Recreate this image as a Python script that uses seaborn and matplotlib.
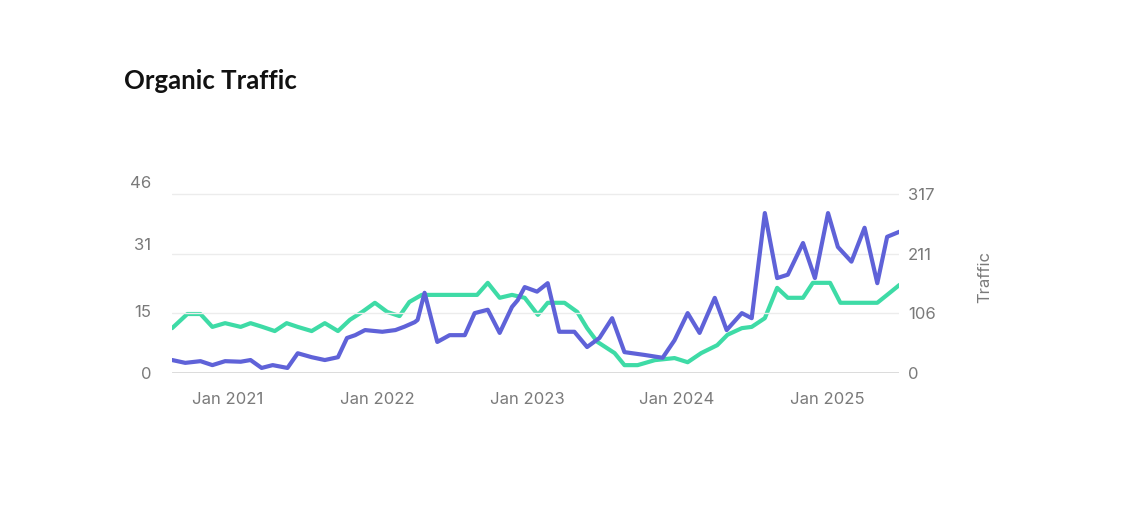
import matplotlib
matplotlib.use("Agg")
import matplotlib.pyplot as plt
import matplotlib.dates as mdates
import numpy as np
import pandas as pd
import seaborn as sns

# traffic series (right axis)
traffic_dates = ['2020-08-19', '2020-09-20', '2020-10-27', '2020-11-25', '2020-12-26',
                 '2021-02-02', '2021-02-26', '2021-03-25', '2021-04-21', '2021-05-27',
                 '2021-06-21', '2021-07-25', '2021-08-26', '2021-09-27', '2021-10-19',
                 '2021-11-08', '2021-12-02', '2022-01-13', '2022-02-14', '2022-03-08',
                 '2022-04-02', '2022-04-09', '2022-04-26', '2022-05-13', '2022-05-27',
                 '2022-06-26', '2022-08-02', '2022-08-26', '2022-09-27', '2022-10-26',
                 '2022-11-25', '2022-12-09', '2022-12-26', '2023-01-25', '2023-02-20',
                 '2023-03-20', '2023-04-26', '2023-05-27', '2023-06-26', '2023-07-27',
                 '2023-08-26', '2023-10-14', '2023-11-27', '2023-12-26', '2024-01-27',
                 '2024-02-25', '2024-04-02', '2024-05-01', '2024-06-07', '2024-07-01',
                 '2024-08-02', '2024-09-01', '2024-09-27', '2024-11-03', '2024-12-02',
                 '2025-01-03', '2025-01-27', '2025-03-01', '2025-04-02', '2025-05-03',
                 '2025-05-27', '2025-06-26']
traffic = [23, 18, 21, 14, 21, 20, 23, 9, 14, 9,
           35, 28, 23, 28, 62, 67, 76, 73, 76, 82,
           90, 94, 142, 94, 55, 67, 67, 106, 112, 71,
           117, 129, 152, 144, 159, 73, 73, 46, 62, 97,
           37, 32, 27, 58, 106, 71, 133, 76, 106, 97,
           283, 168, 174, 230, 168, 283, 223, 197, 257, 159,
           241, 250]

# keywords series (left axis)
kw_dates = ['2020-08-19', '2020-09-25', '2020-10-27', '2020-11-25', '2020-12-26',
            '2021-02-02', '2021-02-26', '2021-03-27', '2021-04-26', '2021-05-25',
            '2021-06-21', '2021-07-25', '2021-08-26', '2021-09-27', '2021-10-26',
            '2021-11-25', '2021-12-26', '2022-01-25', '2022-02-24', '2022-03-20',
            '2022-04-19', '2022-09-01', '2022-09-27', '2022-10-26', '2022-11-25',
            '2022-12-26', '2023-01-27', '2023-02-20', '2023-04-02', '2023-05-03',
            '2023-05-27', '2023-06-21', '2023-08-02', '2023-08-26', '2023-09-27',
            '2023-11-08', '2023-12-26', '2024-01-27', '2024-02-29', '2024-04-08',
            '2024-05-03', '2024-06-07', '2024-07-01', '2024-08-02', '2024-09-01',
            '2024-09-27', '2024-11-03', '2024-11-27', '2025-01-08', '2025-02-02',
            '2025-05-03', '2025-05-27', '2025-06-26']
keywords = [10.8, 14.2, 14.2, 11.1, 12.0, 11.1, 12.0, 11.1, 10.1, 12.0,
            11.1, 10.1, 12.0, 10.1, 12.8, 14.7, 16.9, 14.7, 13.7, 17.1,
            18.8, 18.8, 21.7, 18.1, 18.8, 18.1, 14.0, 16.9, 16.9, 14.7,
            10.8, 7.5, 4.8, 1.9, 1.9, 3.1, 3.6, 2.6, 4.8, 6.7,
            9.2, 10.8, 11.1, 13.2, 20.5, 18.1, 18.1, 21.7, 21.7, 16.9,
            16.9, 18.8, 21.2]

left_ticks = [0, 15, 31, 46]
right_ticks = [0, 106, 211, 317]

df_t = pd.DataFrame({'date': pd.to_datetime(traffic_dates), 'val': traffic})
df_k = pd.DataFrame({'date': pd.to_datetime(kw_dates), 'val': keywords})

sns.set_style('white')
plt.rcParams['font.family'] = ['Inter', 'DejaVu Sans']

fig = plt.figure(figsize=(11.4, 5.21), dpi=100)
ax = fig.add_axes([0.151, 0.284, 0.638, 0.367])
ax2 = ax.twinx()

blue = '#5f62d8'
green = '#3edba6'
grey = '#7a7a7a'

sns.lineplot(data=df_k, x='date', y='val', ax=ax, color=green, lw=3,
             solid_joinstyle='round', solid_capstyle='round', zorder=3)
sns.lineplot(data=df_t, x='date', y='val', ax=ax2, color=blue, lw=3,
             solid_joinstyle='round', solid_capstyle='round', zorder=4)

x0, x1 = pd.Timestamp('2020-08-19'), pd.Timestamp('2025-06-26')
ax.set_xlim(x0, x1)
ax.set_ylim(0, 46)
ax2.set_ylim(0, 317 * 191 / 179)

ax.set_yticks(left_ticks)
ax2.set_yticks(right_ticks)
ax.set_yticklabels([str(v) for v in left_ticks])
ax2.set_yticklabels([str(v) for v in right_ticks])

ax.xaxis.set_major_locator(mdates.YearLocator(month=1, day=1))
ax.xaxis.set_major_formatter(mdates.DateFormatter('Jan %Y'))

for a in (ax, ax2):
    for s in a.spines.values():
        s.set_visible(False)
    a.set_xlabel('')
    a.set_ylabel('')

ax.tick_params(axis='y', length=0, labelsize=12, labelcolor=grey, pad=15)
ax2.tick_params(axis='y', length=0, labelsize=12, labelcolor=grey, pad=6)
ax.tick_params(axis='x', length=0, labelsize=12, labelcolor=grey, pad=14)

# grid lines from right scale
for v in right_ticks[1:]:
    ax2.axhline(v, color='#ececec', lw=1, zorder=0)
ax2.axhline(0, color='#d8d8d8', lw=2, zorder=1)
ax.grid(False)
ax2.grid(False)

ax2.set_ylabel('Traffic', color=grey, fontsize=12, labelpad=30)

fig.text(0.109, 0.83, 'Organic Traffic', fontsize=18.5, fontweight='bold',
         family=['Lato', 'DejaVu Sans'], color='#111111')

fig.savefig('out.png', dpi=100, facecolor='white')
